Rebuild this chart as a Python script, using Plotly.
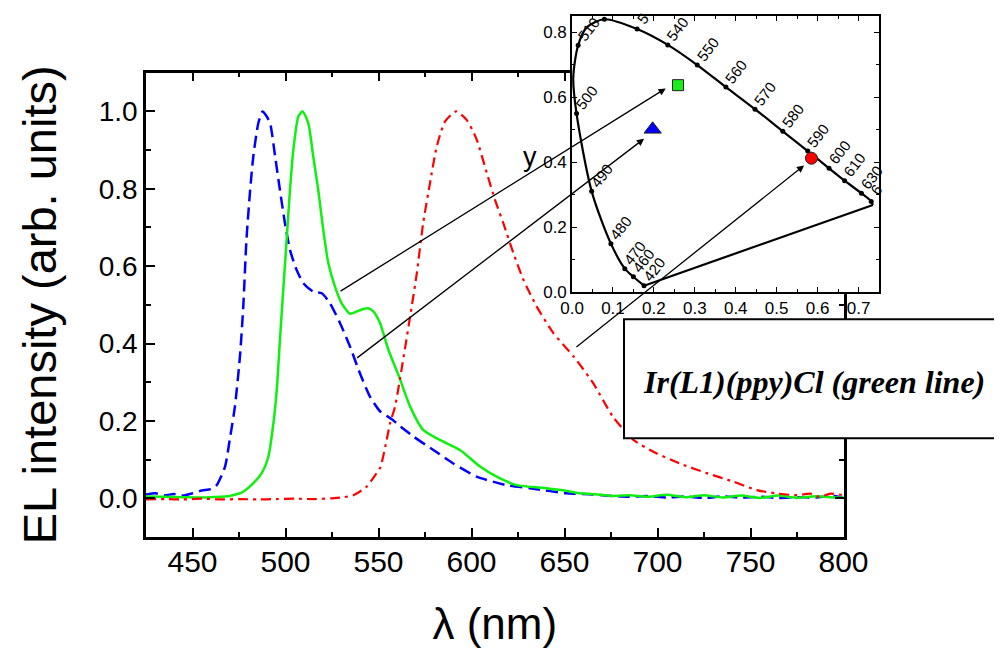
import plotly.graph_objects as go

# ---------------- main EL spectra ----------------
blue_wl = [425, 430, 435, 440, 445, 450, 455, 460, 463, 467.5, 470, 472.8, 475.5, 477.3, 479, 481,
           482.7, 485.4, 487.7, 489.5, 491.7, 494.4, 497, 499.7, 502.4, 506, 509.6, 515, 519.5,
           523.9, 529.3, 534.7, 540, 545.4, 550.8, 557, 562, 568.7, 579.5, 590.2, 602.8, 618.9,
           631.5, 651, 665, 676, 685, 695, 705, 715, 725, 735, 745, 755, 765, 775, 785, 795, 800]
blue_int = [0.010, 0.013, 0.008, 0.011, 0.007, 0.013, 0.020, 0.024, 0.034, 0.082, 0.151, 0.237,
            0.366, 0.496, 0.668, 0.797, 0.884, 0.970, 1.000, 0.990, 0.970, 0.884, 0.797, 0.711,
            0.642, 0.590, 0.556, 0.534, 0.530, 0.504, 0.453, 0.392, 0.323, 0.263, 0.225, 0.205,
            0.185, 0.160, 0.125, 0.090, 0.056, 0.034, 0.026, 0.013, 0.010, 0.006, 0.004, 0.006,
            0.002, 0.005, 0.001, 0.005, 0.002, 0.004, 0.001, 0.003, 0.002, 0.006, 0.001]

green_wl = [425, 435, 445, 455, 465, 470, 475.5, 477.3, 482.7, 487.2, 490.8, 493.5, 495.3, 497,
            498.8, 500.6, 502.4, 504.2, 506.9, 509.2, 512.2, 514.9, 517.6, 520.3, 523, 526.6,
            530.2, 534.7, 538.3, 541, 544.5, 547.2, 550.8, 555.3, 561, 567, 574, 583, 593.8,
            604.6, 613.5, 624.3, 640.4, 650, 658.3, 668, 676.3, 685, 695, 705, 715, 725, 735,
            745, 755, 765, 775, 785, 795, 800]
green_int = [0.005, 0.004, 0.003, 0.002, 0.004, 0.006, 0.013, 0.017, 0.039, 0.065, 0.108, 0.194,
             0.280, 0.409, 0.539, 0.668, 0.797, 0.900, 0.987, 1.000, 0.970, 0.884, 0.797, 0.694,
             0.608, 0.547, 0.504, 0.477, 0.483, 0.488, 0.491, 0.483, 0.453, 0.384, 0.315, 0.237,
             0.177, 0.151, 0.125, 0.082, 0.056, 0.034, 0.026, 0.020, 0.013, 0.010, 0.006, 0.008,
             0.004, 0.009, 0.003, 0.008, 0.002, 0.007, 0.001, 0.007, 0.001, 0.005, 0.002, 0.002]

red_wl = [425, 435, 445, 455, 465, 475, 485, 495, 505, 515, 525, 530, 536.5, 543.6, 549, 551,
          554.4, 556.2, 558.9, 561.6, 567, 570.6, 574, 577.7, 581.3, 585.8, 591.7, 597.4, 602.8,
          608.2, 612.6, 617.1, 622.5, 627.9, 635, 644, 655, 665.5, 676, 687, 699.6, 712, 726.5,
          740.8, 753.3, 765, 775, 782, 787, 793, 800]
red_int = [-0.003, -0.002, -0.003, -0.001, -0.003, -0.002, -0.003, -0.002, -0.001, -0.002, 0.000,
           0.002, 0.008, 0.030, 0.065, 0.080, 0.151, 0.194, 0.237, 0.310, 0.470, 0.582, 0.711,
           0.815, 0.909, 0.974, 1.000, 0.978, 0.927, 0.841, 0.772, 0.711, 0.634, 0.565, 0.496,
           0.427, 0.366, 0.297, 0.211, 0.151, 0.116, 0.090, 0.065, 0.043, 0.021, 0.012, 0.008,
           0.012, 0.004, 0.012, 0.008]

# ---------------- CIE inset ----------------
locus_wl = [420, 460, 470, 480, 490, 500, 505, 510, 515, 520, 530, 540, 550, 560, 570, 580,
            590, 600, 610, 630, 650, 700]
locus_x = [0.176, 0.150, 0.129, 0.095, 0.048, 0.011, 0.003, 0.015, 0.036, 0.079, 0.159, 0.234,
           0.306, 0.376, 0.447, 0.515, 0.576, 0.628, 0.666, 0.707, 0.731, 0.735]
locus_y = [0.0195, 0.047, 0.072, 0.149, 0.310, 0.550, 0.660, 0.760, 0.815, 0.840, 0.810, 0.761,
           0.699, 0.631, 0.563, 0.495, 0.434, 0.381, 0.343, 0.304, 0.279, 0.268]
dot_wl = [420, 460, 470, 480, 490, 500, 510, 520, 530, 540, 550, 560, 570, 580, 590, 600, 610, 630, 650]
label_wl = [420, 460, 470, 480, 490, 500, 510, 540, 550, 560, 570, 580, 590, 600, 610, 630]

dev_x = [0.259, 0.197, 0.585]
dev_y = [0.637, 0.501, 0.412]
dev_symbol = ["square", "triangle-up", "circle"]
dev_color = ["#1aee1a", "#0000ff", "#ff0000"]
dev_size = [11, 15, 12]

# arrows: tail on a spectrum (wavelength, intensity) -> head in CIE coords
arrow_tail_wl = [528.8, 537.7, 655.6]
arrow_tail_int = [0.533, 0.360, 0.388]
arrow_head_x = [0.229, 0.176, 0.567]
arrow_head_y = [0.627, 0.472, 0.390]

# ---------------- geometry (page pixels; the page body adds an 8 px offset) ----------------
OFF = 8
W, H = 1002 - OFF, 648 - OFF
ML, MR, MT, MB = 146 - OFF, 123, 16 - OFF, 111
PW, PH = W - ML - MR, H - MT - MB
MAIN_XD, MAIN_YD = [0.0, 0.9516], [0.0, 0.8912]
INS_XD, INS_YD = [0.5812, 1.0], [0.4702, 1.0]
MAIN_XR, MAIN_YR = [425, 800], [-0.1, 1.1]
INS_XR, INS_YR = [0, 0.75], [0, 0.85]


def to_px(v, dom, rng, horiz):
    f = (v - rng[0]) / (rng[1] - rng[0])
    d = dom[0] + f * (dom[1] - dom[0])
    return OFF + (ML + PW * d if horiz else MT + PH * (1 - d))


def from_px(p, dom, rng, horiz):
    d = (p - OFF - ML) / PW if horiz else 1 - (p - OFF - MT) / PH
    f = (d - dom[0]) / (dom[1] - dom[0])
    return rng[0] + f * (rng[1] - rng[0])


def paper_x(px):
    return (px - OFF - ML) / PW


def paper_y(py):
    return 1 - (py - OFF - MT) / PH


SANS = "Liberation Sans, Arial, sans-serif"
fig = go.Figure()

fig.add_trace(go.Scatter(x=blue_wl, y=blue_int, mode="lines", xaxis="x", yaxis="y",
                         line=dict(color="#0000ff", width=2.5, dash="12px,6px", shape="spline", smoothing=0.6)))
fig.add_trace(go.Scatter(x=green_wl, y=green_int, mode="lines", xaxis="x", yaxis="y",
                         line=dict(color="#10f010", width=2.5, shape="spline", smoothing=0.6)))
fig.add_trace(go.Scatter(x=red_wl, y=red_int, mode="lines", xaxis="x", yaxis="y",
                         line=dict(color="#ff0000", width=2.2, dash="10px,5px,3px,5px", shape="spline", smoothing=0.6)))

# inset
fig.add_trace(go.Scatter(x=locus_x, y=locus_y, mode="lines", xaxis="x2", yaxis="y2",
                         line=dict(color="black", width=2.2, shape="spline", smoothing=0.8)))
fig.add_trace(go.Scatter(x=[locus_x[-1], locus_x[0]], y=[locus_y[-1], locus_y[0]], mode="lines",
                         xaxis="x2", yaxis="y2", line=dict(color="black", width=2.2)))
dx = [locus_x[locus_wl.index(w)] for w in dot_wl]
dy = [locus_y[locus_wl.index(w)] for w in dot_wl]
fig.add_trace(go.Scatter(x=dx, y=dy, mode="markers", xaxis="x2", yaxis="y2",
                         marker=dict(color="black", size=5)))
for sx, sy, sym, col, sz in zip(dev_x, dev_y, dev_symbol, dev_color, dev_size):
    fig.add_trace(go.Scatter(x=[sx], y=[sy], mode="markers", xaxis="x2", yaxis="y2",
                             marker=dict(symbol=sym, color=col, size=sz,
                                         line=dict(color="#222222", width=1))))

annotations = []
for w in label_wl:
    i = locus_wl.index(w)
    annotations.append(dict(x=locus_x[i], y=locus_y[i], xref="x2", yref="y2", text=str(w),
                            showarrow=False, textangle=-52, xshift=10, yshift=16,
                            font=dict(family=SANS, size=15, color="black")))
# labels clipped by the inset frame: only their first digit is visible
for w, txt, xs, ys in [(530, "5", 6, 10), (650, "6", 5, 12)]:
    i = locus_wl.index(w)
    annotations.append(dict(x=locus_x[i], y=locus_y[i], xref="x2", yref="y2", text=txt,
                            showarrow=False, textangle=-52, xshift=xs, yshift=ys,
                            font=dict(family=SANS, size=15, color="black")))

for twl, tin, hx, hy in zip(arrow_tail_wl, arrow_tail_int, arrow_head_x, arrow_head_y):
    tpx = to_px(twl, MAIN_XD, MAIN_XR, True)
    tpy = to_px(tin, MAIN_YD, MAIN_YR, False)
    ax = from_px(tpx, INS_XD, INS_XR, True)
    ay = from_px(tpy, INS_YD, INS_YR, False)
    annotations.append(dict(x=hx, y=hy, xref="x2", yref="y2", ax=ax, ay=ay, axref="x2", ayref="y2",
                            text="", showarrow=True, arrowhead=2, arrowsize=1.1, arrowwidth=1.3,
                            arrowcolor="black", standoff=0))

# inset y label
annotations.append(dict(x=paper_x(530), y=paper_y(140), xref="paper", yref="paper",
                        text="y", showarrow=False, font=dict(family=SANS, size=27, color="black")))
# text box
annotations.append(dict(x=paper_x(641), y=paper_y(382), xref="paper", yref="paper",
                        xanchor="left", yanchor="middle",
                        text="<b><i>Ir(L1)(ppy)Cl (green line)</i></b>", showarrow=False,
                        font=dict(family="Liberation Serif, Times New Roman, serif", size=32, color="black")))

shapes = [dict(type="rect", xref="paper", yref="paper",
               x0=paper_x(624), x1=1.2, y0=paper_y(438.3), y1=paper_y(319.3),
               line=dict(color="black", width=2), fillcolor="white", layer="above")]

main_ax = dict(showline=True, linecolor="black", linewidth=2.5, mirror="ticks", ticks="inside",
               tickcolor="black", tickwidth=2, ticklen=9, showgrid=False, zeroline=False)
ins_ax = dict(showline=True, linecolor="black", linewidth=1.6, mirror="ticks", ticks="inside",
              tickcolor="black", tickwidth=1.2, ticklen=5, showgrid=False, zeroline=False,
              tickfont=dict(family=SANS, size=17, color="black"), tickformat=".1f")

fig.update_layout(
    width=W, height=H, margin=dict(l=ML, r=MR, t=MT, b=MB, autoexpand=False),
    paper_bgcolor="white", plot_bgcolor="white", showlegend=False,
    xaxis=dict(domain=MAIN_XD, range=MAIN_XR, anchor="y", dtick=50, **main_ax,
               minor=dict(dtick=25, ticks="inside", ticklen=5, tickwidth=1.5, tickcolor="black"),
               tickfont=dict(family=SANS, size=30, color="black"), ticklabelstandoff=-4,
               title=dict(text="λ (nm)", font=dict(family=SANS, size=44, color="black"), standoff=35)),
    yaxis=dict(domain=MAIN_YD, range=MAIN_YR, anchor="x", dtick=0.2, tickformat=".1f", **main_ax,
               minor=dict(dtick=0.1, ticks="inside", ticklen=5, tickwidth=1.5, tickcolor="black"),
               tickfont=dict(family=SANS, size=28, color="black"), ticklabelstandoff=0,
               title=dict(text="EL intensity (arb. units)", font=dict(family=SANS, size=47, color="black"),
                          standoff=28)),
    xaxis2=dict(domain=INS_XD, range=INS_XR, anchor="y2", dtick=0.1, **ins_ax,
                minor=dict(dtick=0.05, ticks="inside", ticklen=3, tickwidth=1, tickcolor="black")),
    yaxis2=dict(domain=INS_YD, range=INS_YR, anchor="x2", dtick=0.2, **ins_ax,
                minor=dict(dtick=0.1, ticks="inside", ticklen=3, tickwidth=1, tickcolor="black")),
    annotations=annotations, shapes=shapes,
)

fig.write_html("out.html")
